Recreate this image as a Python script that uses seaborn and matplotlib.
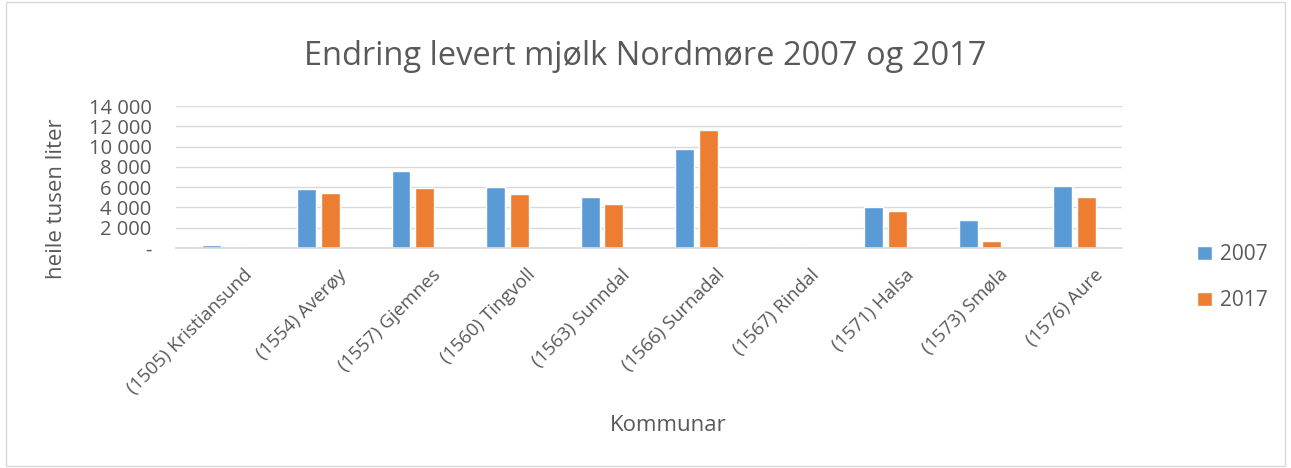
import pandas as pd
import matplotlib.pyplot as plt
import matplotlib.transforms as mtransforms
import seaborn as sns
from matplotlib.ticker import FuncFormatter
from matplotlib.patches import Rectangle

# Data (heile tusen liter)
kommunar = ['(1505) Kristiansund', '(1554) Averøy', '(1557) Gjemnes', '(1560) Tingvoll',
            '(1563) Sunndal', '(1566) Surnadal', '(1567) Rindal', '(1571) Halsa',
            '(1573) Smøla', '(1576) Aure']
v2007 = [270, 5800, 7550, 5970, 5040, 9750, 0, 4090, 2740, 6100]
v2017 = [130, 5470, 5900, 5340, 4380, 11660, 0, 3690, 730, 5080]

data = pd.DataFrame({
    'Kommune': kommunar * 2,
    'Liter': v2007 + v2017,
    'Aar': ['2007'] * len(kommunar) + ['2017'] * len(kommunar),
})

sns.set_theme(style='white')
plt.rcParams['font.family'] = ['Open Sans', 'DejaVu Sans']
grey = '#595959'

fig = plt.figure(figsize=(12.91, 4.68), dpi=100)
ax = fig.add_axes([0.1367, 0.470, 0.7323, 0.3035])

sns.barplot(data=data, x='Kommune', y='Liter', hue='Aar', saturation=1,
            palette=['#5B9BD5', '#ED7D31'], width=0.5, gap=0.2, ax=ax)

ax.set_ylim(0, 14000)
ax.set_yticks(range(0, 14001, 2000))
ax.yaxis.set_major_formatter(FuncFormatter(
    lambda v, p: '-' if v == 0 else f'{v:,.0f}'.replace(',', ' ')))
ax.grid(axis='y', color='#D9D9D9', linewidth=1)
ax.set_axisbelow(True)
for s in ['top', 'right', 'left']:
    ax.spines[s].set_visible(False)
ax.spines['bottom'].set_color('#D9D9D9')
ax.tick_params(axis='y', length=0, colors=grey, labelsize=14.5, pad=18)
ax.tick_params(axis='x', length=0, colors=grey, labelsize=13.5, pad=4)
shift = mtransforms.ScaledTranslation(19 / 100, -12 / 100, fig.dpi_scale_trans)
for lab in ax.get_xticklabels():
    lab.set_rotation(45)
    lab.set_ha('right')
    lab.set_rotation_mode('anchor')
    lab.set_transform(lab.get_transform() + shift)

ax.set_xlabel('Kommunar', fontsize=16, color=grey, va='center')
ax.xaxis.set_label_coords(0.52, -1.25)
ax.set_ylabel('heile tusen liter', fontsize=16, color=grey, va='center')
ax.yaxis.set_label_coords(-0.1265, 0.345)
fig.suptitle('Endring levert mjølk Nordmøre 2007 og 2017', fontsize=23.5, color=grey, y=0.915)

sns.move_legend(ax, 'center left', bbox_to_anchor=(1.06, -0.21), frameon=False, title=None,
                fontsize=15, labelspacing=1.2, handlelength=0.7, handleheight=0.7,
                handletextpad=0.4)
for t in ax.get_legend().get_texts():
    t.set_color(grey)

fig.patches.append(Rectangle((0.005, 0.005), 0.99, 0.99, transform=fig.transFigure,
                             fill=False, edgecolor='#D9D9D9', linewidth=1))

plt.savefig('out.png', dpi=100)
